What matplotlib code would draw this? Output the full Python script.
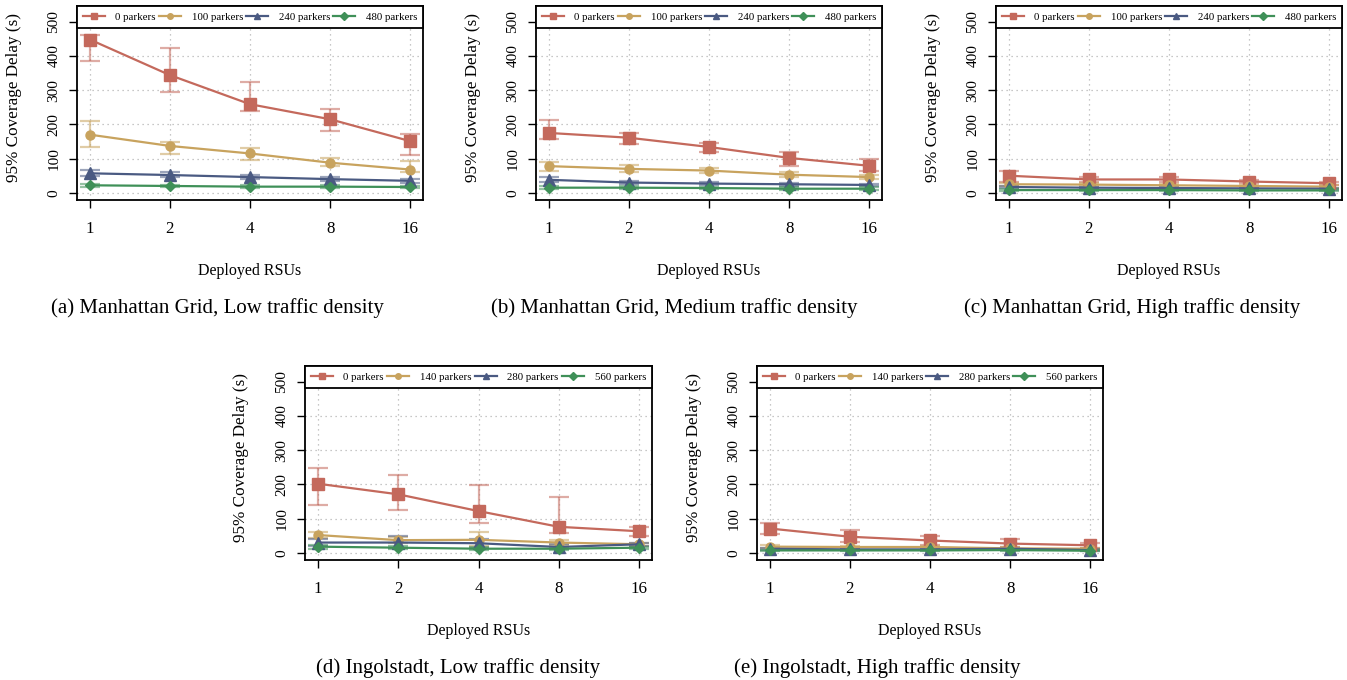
import matplotlib
matplotlib.use("Agg")
import matplotlib.pyplot as plt
import numpy as np

plt.rcParams['font.family'] = ['Liberation Serif', 'DejaVu Serif']

rsus = ['1', '2', '4', '8', '16']
labels_manhattan = ['0 parkers', '100 parkers', '240 parkers', '480 parkers']
labels_ingolstadt = ['0 parkers', '140 parkers', '280 parkers', '560 parkers']
yticks = [0, 100, 200, 300, 400, 500]

# Panel (a) Manhattan Grid, Low traffic density
a_mean = [[448, 344, 259, 215, 151], [170, 137, 115, 88, 68], [57, 52, 46, 40, 35], [22, 20, 18, 18, 17]]
a_lo = [[385, 294, 240, 182, 110], [133, 113, 95, 78, 61], [50, 45, 40, 34, 29], [17, 16, 14, 14, 13]]
a_hi = [[460, 422, 324, 246, 171], [211, 149, 131, 101, 93], [66, 60, 53, 46, 41], [27, 24, 22, 22, 21]]

# Panel (b) Manhattan Grid, Medium traffic density
b_mean = [[175, 161, 134, 102, 79], [78, 70, 65, 53, 46], [38, 30, 27, 25, 23], [15, 15, 14, 12, 12]]
b_lo = [[156, 144, 120, 79, 63], [65, 60, 58, 45, 40], [32, 26, 23, 21, 19], [11, 11, 10, 9, 9]]
b_hi = [[214, 175, 146, 118, 98], [90, 80, 72, 62, 52], [45, 35, 31, 29, 27], [19, 19, 18, 16, 16]]

# Panel (c) Manhattan Grid, High traffic density
c_mean = [[50, 39, 39, 33, 28], [25, 24, 22, 20, 18], [17, 15, 14, 13, 12], [8, 8, 8, 7, 7]]
c_lo = [[32, 33, 33, 28, 23], [20, 20, 18, 16, 14], [14, 12, 11, 10, 9], [5, 5, 5, 5, 5]]
c_hi = [[64, 45, 45, 38, 33], [30, 28, 26, 24, 22], [20, 18, 17, 16, 15], [11, 11, 11, 10, 10]]

# Panel (d) Ingolstadt, Low traffic density
d_mean = [[202, 171, 122, 76, 63], [52, 37, 38, 30, 25], [30, 30, 28, 17, 25], [18, 15, 12, 12, 15]]
d_lo = [[139, 124, 87, 59, 50], [42, 30, 20, 22, 20], [20, 15, 15, 12, 20], [12, 10, 8, 8, 12]]
d_hi = [[247, 228, 197, 163, 76], [62, 46, 61, 38, 30], [40, 50, 40, 25, 28], [22, 20, 18, 16, 18]]

# Panel (e) Ingolstadt, High traffic density
e_mean = [[71, 47, 36, 27, 22], [18, 17, 17, 13, 12], [12, 10, 10, 12, 8], [7, 7, 7, 8, 6]]
e_lo = [[56, 32, 22, 17, 13], [14, 13, 13, 10, 9], [9, 7, 7, 9, 5], [5, 5, 5, 6, 4]]
e_hi = [[88, 66, 50, 40, 29], [22, 21, 21, 16, 15], [15, 13, 13, 15, 11], [9, 9, 9, 10, 8]]

captions = ['(a) Manhattan Grid, Low traffic density',
            '(b) Manhattan Grid, Medium traffic density',
            '(c) Manhattan Grid, High traffic density',
            '(d) Ingolstadt, Low traffic density',
            '(e) Ingolstadt, High traffic density']

colors = ['#c4695c', '#c8a35e', '#4a5a82', '#3f9058']
markers = ['s', 'o', '^', 'D']
msizes = [8, 6.5, 8, 5.5]

W, H = 1347, 680
fig = plt.figure(figsize=(W / 100, H / 100), dpi=100)

# axes boxes in pixels: left, top, right, bottom
boxes = [(77, 6, 423, 200), (536, 6, 882, 200), (996, 6, 1342, 200),
         (305, 366, 652, 560), (757, 366, 1103, 560)]
cap_pos = [(217, 308), (674, 308), (1132, 308), (458, 668), (877, 668)]

panels = [(a_mean, a_lo, a_hi, labels_manhattan),
          (b_mean, b_lo, b_hi, labels_manhattan),
          (c_mean, c_lo, c_hi, labels_manhattan),
          (d_mean, d_lo, d_hi, labels_ingolstadt),
          (e_mean, e_lo, e_hi, labels_ingolstadt)]

x = np.arange(len(rsus))
for (mean, lo, hi, labs), (l, t, r, b), (cx, cy), cap in zip(panels, boxes, cap_pos, captions):
    ax = fig.add_axes([l / W, 1 - b / H, (r - l) / W, (b - t) / H])
    handles = []
    for i in range(4):
        m = np.array(mean[i]); lw_ = np.array(lo[i]); hw_ = np.array(hi[i])
        ax.errorbar(x, m, yerr=[m - lw_, hw_ - m], fmt='none', ecolor=colors[i],
                    elinewidth=1.6, capsize=7, capthick=1.6, alpha=0.55, zorder=3)
        ax.plot(x, m, color=colors[i], lw=1.6, marker=markers[i], ms=msizes[i],
                mec=colors[i], zorder=4)
        h, = ax.plot([], [], color=colors[i], lw=1.6, marker=markers[i],
                     ms=4, mec=colors[i])
        handles.append(h)
    ax.set_xlim(-0.16, 4.16)
    ax.set_ylim(-21, 546)
    ax.set_xticks(x)
    ax.set_xticklabels(rsus)
    ax.set_yticks(yticks)
    ax.set_yticklabels([str(v) for v in yticks], rotation=90, va='center')
    ax.tick_params(axis='both', direction='out', length=6, width=1)
    ax.tick_params(axis='x', pad=9, labelsize=12.2)
    ax.tick_params(axis='y', pad=6, labelsize=11)
    ax.grid(True, color='#b5b5b5', linestyle=(0, (1, 3)), linewidth=0.9, zorder=0)
    ax.set_axisbelow(True)
    for s in ax.spines.values():
        s.set_linewidth(1.3)
    ax.set_xlabel('Deployed RSUs', fontsize=11.5)
    ax.xaxis.set_label_coords(0.5, -0.325)
    ax.set_ylabel('95% Coverage Delay (s)', fontsize=12.3)
    ax.yaxis.set_label_coords(-0.16, 0.53)
    leg = ax.legend(handles, labs, loc='center', ncol=4, mode='expand',
                    bbox_to_anchor=(0, 1 - 0.113, 1, 0.113), borderaxespad=0,
                    fontsize=7.8, handlelength=2.0, handletextpad=1.0,
                    columnspacing=0.8, fancybox=False, framealpha=1,
                    edgecolor='black', borderpad=0.55)
    leg.get_frame().set_linewidth(1.3)
    leg.set_zorder(10)
    fig.text(cx / W, 1 - cy / H, cap, ha='center', va='center', fontsize=15)

fig.savefig('out.png', dpi=100)
